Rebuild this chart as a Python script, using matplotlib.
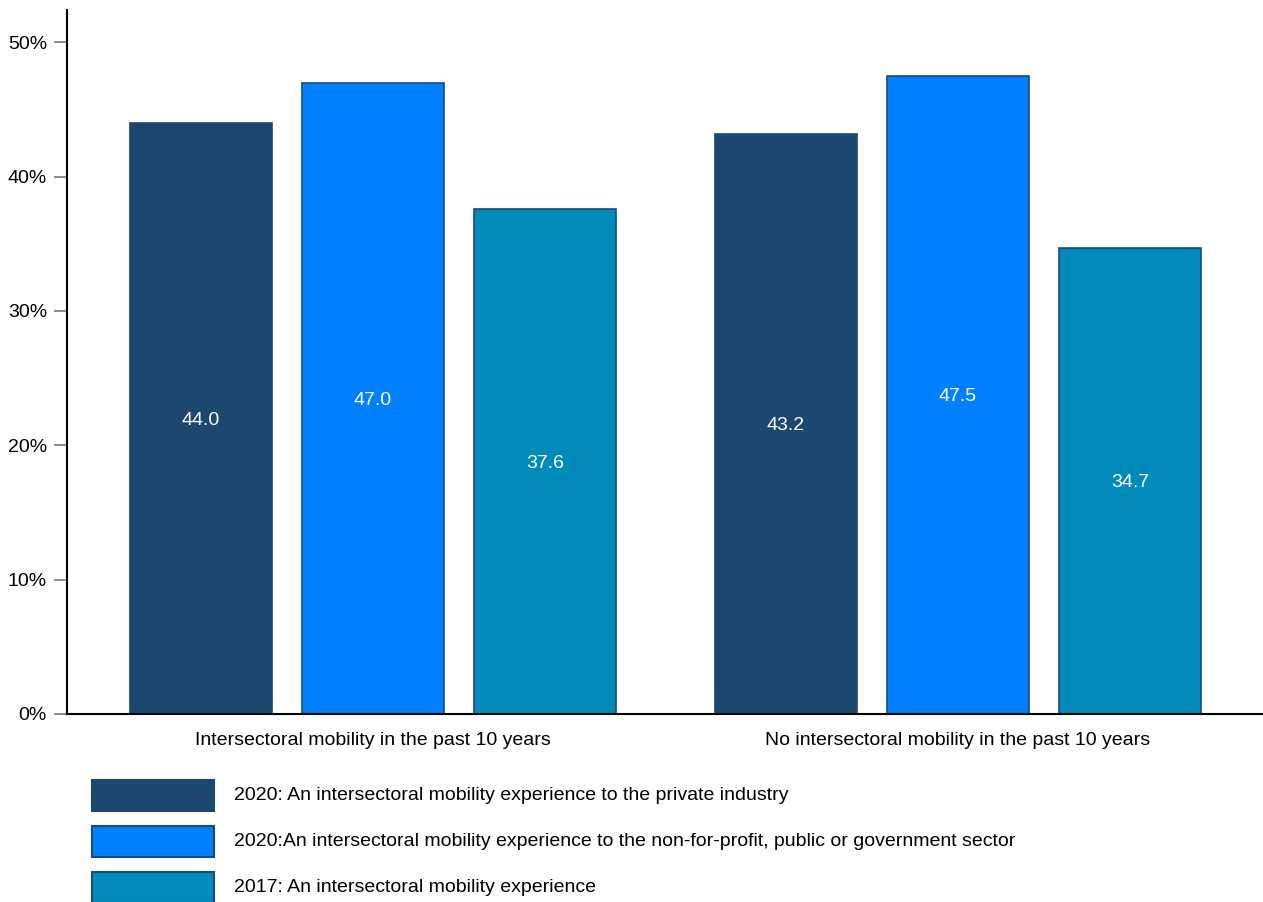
import matplotlib.pyplot as plt
from matplotlib.patches import Rectangle
import numpy as np

plt.rcParams['font.family'] = ['Liberation Sans', 'DejaVu Sans']

groups = ['Intersectoral mobility in the past 10 years', 'No intersectoral mobility in the past 10 years']
series = ['2020: An intersectoral mobility experience to the private industry',
          '2020:An intersectoral mobility experience to the non-for-profit, public or government sector',
          '2017: An intersectoral mobility experience']
private_2020 = [44.0, 43.2]
nonprofit_2020 = [47.0, 47.5]
mobility_2017 = [37.6, 34.7]

colors = ['#1c4870', '#0080ff', '#008bbb']
edges = ['#1c4870', '#1a4a7a', '#1a4a7a']

W, H = 1263, 902
fs = 14
fig = plt.figure(figsize=(W/100, H/100), dpi=100)
ax = fig.add_axes([67/W, 1-714/H, 1196/W, 704/H])

centers = np.array([0, 585/172])
width = 0.83
for i, vals in enumerate([private_2020, nonprofit_2020, mobility_2017]):
    x = centers + (i - 1)
    bars = ax.bar(x, vals, width, color=colors[i], edgecolor=edges[i], linewidth=1.2)
    for b, v in zip(bars, vals):
        ax.text(b.get_x() + b.get_width()/2, v/2 - 0.15, f'{v:.1f}', ha='center', va='center',
                color='white', fontsize=fs)

ax.set_xlim(-1.779, 5.174)
ax.set_ylim(0, 52.4)
ax.set_yticks(range(0, 51, 10))
ax.set_yticklabels([f'{t}%' for t in range(0, 51, 10)], fontsize=fs)
ax.set_xticks(centers)
ax.set_xticklabels(groups, fontsize=fs)
ax.tick_params(axis='x', length=0, pad=13)
ax.tick_params(axis='y', length=9.5, color='#777777', width=1.2, pad=5)
for s in ['top', 'right']:
    ax.spines[s].set_visible(False)
for s in ['left', 'bottom']:
    ax.spines[s].set_linewidth(1.5)

# legend drawn by hand, in figure pixels
for i, label in enumerate(series):
    top = 780 + i * 46
    fig.patches.append(Rectangle((92/W, 1-(top+31)/H), 122/W, 31/H, transform=fig.transFigure,
                                 facecolor=colors[i], edgecolor=edges[i], linewidth=1.5))
    fig.text(234/W, 1-(top+16)/H, label, ha='left', va='center', fontsize=fs)

fig.savefig('out.png', dpi=100)
